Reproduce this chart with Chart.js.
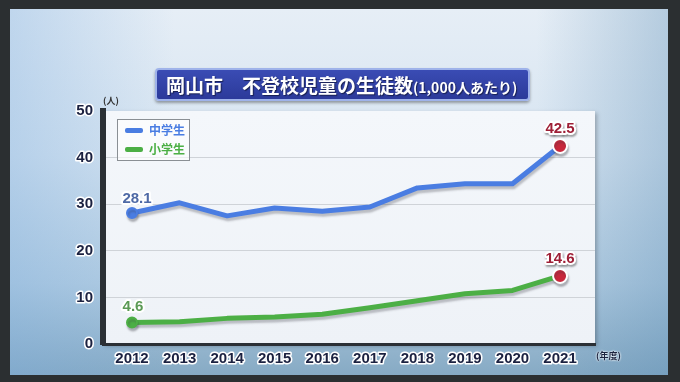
<!DOCTYPE html>
<html>
<head>
<meta charset="utf-8">
<script src="https://cdn.jsdelivr.net/npm/chart.js@4.4.1/dist/chart.umd.min.js"></script>
<style>
  html, body { margin:0; padding:0; }
  body { width:680px; height:382px; background:#2b2f31; position:relative; overflow:hidden;
         font-family:"Noto Sans CJK JP","Noto Sans",sans-serif; }
  #screen { position:absolute; left:10px; top:9px; width:658px; height:366px;
    background: linear-gradient(180deg, #e6eef6 0%, #d6e4f1 40%, #b3cde2 75%, #86aac4 100%); }
  #screen:before { content:""; position:absolute; inset:0;
    background: linear-gradient(90deg, rgba(120,170,220,0.35) 0%, rgba(255,255,255,0) 25%, rgba(255,255,255,0) 80%, rgba(90,140,180,0.35) 100%); }
  #wrap { position:absolute; left:0; top:0; width:680px; height:382px; }
  #title { position:absolute; left:155px; top:68px; width:362px; height:29px;
    background: linear-gradient(180deg, #3a4cb4 0%, #2c3a9a 100%);
    border:2px solid #9fb3ea; border-radius:4px; box-shadow:0 2px 3px rgba(0,0,0,0.35);
    color:#fff; font-weight:bold; white-space:nowrap; line-height:29px; padding-left:9px; overflow:hidden; }
  #title .big { font-size:19px; text-shadow:1px 1px 1px rgba(0,0,0,0.5); }
  #title .small { font-size:14px; text-shadow:1px 1px 1px rgba(0,0,0,0.5); }
  #legend { position:absolute; left:117px; top:119px; width:71px; height:40px;
    border:1px solid #8a8f94; background:rgba(255,255,255,0.6); }
  .li { position:absolute; left:7px; height:18px; font-size:12px; font-weight:bold; line-height:18px; }
  .li .sw { display:inline-block; width:18px; height:5px; border-radius:2px; vertical-align:middle; margin-right:6px; margin-top:-2px; }
  #unitY { position:absolute; left:103px; top:94px; font-size:9px; color:#333; font-weight:bold; }
  #unitX { position:absolute; left:596px; top:349px; font-size:9px; color:#1c2440; font-weight:bold;
    text-shadow:0 0 2px #fff, 0 0 2px #fff; }
</style>
</head>
<body>
<div id="screen"></div>
<div id="wrap"><canvas id="c" width="680" height="382"></canvas></div>
<div id="title"><span class="big">岡山市　不登校児童の生徒数</span><span class="small">(1,000人あたり)</span></div>
<div id="legend"></div>
<div id="unitY">(人)</div>
<div id="unitX">(年度)</div>
<script>
const years = [2012, 2013, 2014, 2015, 2016, 2017, 2018, 2019, 2020, 2021];
const juniorHigh = [28.1, 30.3, 27.5, 29.2, 28.5, 29.4, 33.5, 34.4, 34.4, 42.5];
const elementary = [4.6, 4.8, 5.5, 5.8, 6.4, 7.8, 9.3, 10.8, 11.5, 14.6];
const seriesNames = ['中学生', '小学生'];
const yTicks = [0, 10, 20, 30, 40, 50];

const BLUE = '#4a7de2', GREEN = '#4caf45', RED = '#c8283c';
const n = years.length;
function radii(first, last) { return years.map((_, i) => i === 0 ? first : (i === n - 1 ? last : 0)); }
function colors(c) { return years.map((_, i) => i === n - 1 ? RED : c); }
function borders(c) { return years.map((_, i) => i === n - 1 ? '#ffffff' : c); }

// legend (HTML)
const lg = document.getElementById('legend');
[[seriesNames[0], BLUE, 1], [seriesNames[1], GREEN, 20]].forEach(([t, c, top]) => {
  const d = document.createElement('div');
  d.className = 'li'; d.style.top = top + 'px'; d.style.color = c;
  d.innerHTML = '<span class="sw" style="background:' + c + '"></span>' + t;
  lg.appendChild(d);
});

const panelPlugin = {
  id: 'panel',
  beforeDraw(chart) {
    const { ctx, chartArea: a } = chart;
    ctx.lineJoin = 'round';
    ctx.miterLimit = 2;
    ctx.save();
    ctx.shadowColor = 'rgba(0,0,0,0.25)'; ctx.shadowBlur = 4; ctx.shadowOffsetX = 2; ctx.shadowOffsetY = 2;
    const g = ctx.createLinearGradient(0, a.top, 0, a.bottom);
    g.addColorStop(0, '#f4f7fb'); g.addColorStop(1, '#eef2f7');
    ctx.fillStyle = g;
    ctx.fillRect(a.left, a.top, a.right - a.left, a.bottom - a.top);
    ctx.restore();
  }
};
const shadowPlugin = {
  id: 'lineShadow',
  beforeDatasetsDraw(chart) {
    const ctx = chart.ctx; ctx.save();
    ctx.shadowColor = 'rgba(60,60,70,0.3)'; ctx.shadowBlur = 2; ctx.shadowOffsetX = 1; ctx.shadowOffsetY = 3;
  },
  afterDatasetsDraw(chart) { chart.ctx.restore(); }
};
const labelPlugin = {
  id: 'endLabels',
  afterDatasetsDraw(chart) {
    const ctx = chart.ctx;
    const specs = [
      { ds: 0, i: 0, dx: 5, dy: -14, color: '#4f6aa6', shadow: false },
      { ds: 0, i: n - 1, dx: 0, dy: -17, color: '#9e1f36', shadow: true },
      { ds: 1, i: 0, dx: 1, dy: -16, color: '#5b9a55', shadow: false },
      { ds: 1, i: n - 1, dx: 0, dy: -17, color: '#9e1f36', shadow: true }
    ];
    ctx.save();
    ctx.font = 'bold 15px "Liberation Sans", Arial, sans-serif';
    ctx.textAlign = 'center'; ctx.textBaseline = 'middle';
    ctx.lineJoin = 'round';
    specs.forEach(s => {
      const p = chart.getDatasetMeta(s.ds).data[s.i];
      const v = chart.data.datasets[s.ds].data[s.i].y;
      const txt = v.toFixed(1);
      const x = p.x + s.dx, y = p.y + s.dy;
      ctx.save();
      if (s.shadow) { ctx.shadowColor = 'rgba(0,0,0,0.35)'; ctx.shadowBlur = 2; ctx.shadowOffsetX = 1; ctx.shadowOffsetY = 2; }
      ctx.lineWidth = 4; ctx.strokeStyle = '#ffffff';
      ctx.strokeText(txt, x, y);
      ctx.restore();
      ctx.fillStyle = s.color;
      ctx.fillText(txt, x, y);
    });
    ctx.restore();
  }
};

new Chart(document.getElementById('c'), {
  type: 'line',
  data: {
    datasets: [
      { label: seriesNames[0], data: years.map((y, i) => ({ x: y, y: juniorHigh[i] })),
        borderColor: BLUE, borderWidth: 5, pointRadius: radii(5, 7), pointBackgroundColor: colors(BLUE),
        pointBorderColor: borders(BLUE), pointBorderWidth: 2, tension: 0, borderJoinStyle: 'round' },
      { label: seriesNames[1], data: years.map((y, i) => ({ x: y, y: elementary[i] })),
        borderColor: GREEN, borderWidth: 5, pointRadius: radii(5, 7), pointBackgroundColor: colors(GREEN),
        pointBorderColor: borders(GREEN), pointBorderWidth: 2, tension: 0, borderJoinStyle: 'round' }
    ]
  },
  options: {
    responsive: false, animation: false,
    layout: { padding: { top: 111, left: 60, right: 85, bottom: 0 } },
    plugins: { legend: { display: false }, tooltip: { enabled: false }, title: { display: false } },
    scales: {
      x: {
        type: 'linear', min: 2011.39, max: 2021.735,
        afterBuildTicks(scale) { scale.ticks = years.map(v => ({ value: v })); },
        afterFit(scale) { scale.height = 38; },
        grid: { display: false, drawTicks: false },
        border: { display: true, color: '#2b3035', width: 3 },
        ticks: { autoSkip: false, maxRotation: 0, padding: 6, color: '#1b2140',
          font: { family: '"Liberation Sans", Arial, sans-serif', size: 15, weight: 'bold' },
          textStrokeColor: '#ffffff', textStrokeWidth: 3,
          callback: v => String(v) }
      },
      y: {
        min: 0, max: 50,
        afterBuildTicks(scale) { scale.ticks = yTicks.map(v => ({ value: v })); },
        afterFit(scale) { scale.width = 43; },
        grid: { drawTicks: false, lineWidth: 1,
          color: c => (c.tick.value === 0 || c.tick.value === 50) ? 'rgba(0,0,0,0)' : '#cfd3d8' },
        border: { display: true, color: '#2b3035', width: 6 },
        ticks: { padding: 10, color: '#1b2140',
          font: { family: '"Liberation Sans", Arial, sans-serif', size: 15, weight: 'bold' },
          textStrokeColor: '#ffffff', textStrokeWidth: 3 }
      }
    }
  },
  plugins: [panelPlugin, shadowPlugin, labelPlugin]
});
</script>
</body>
</html>
